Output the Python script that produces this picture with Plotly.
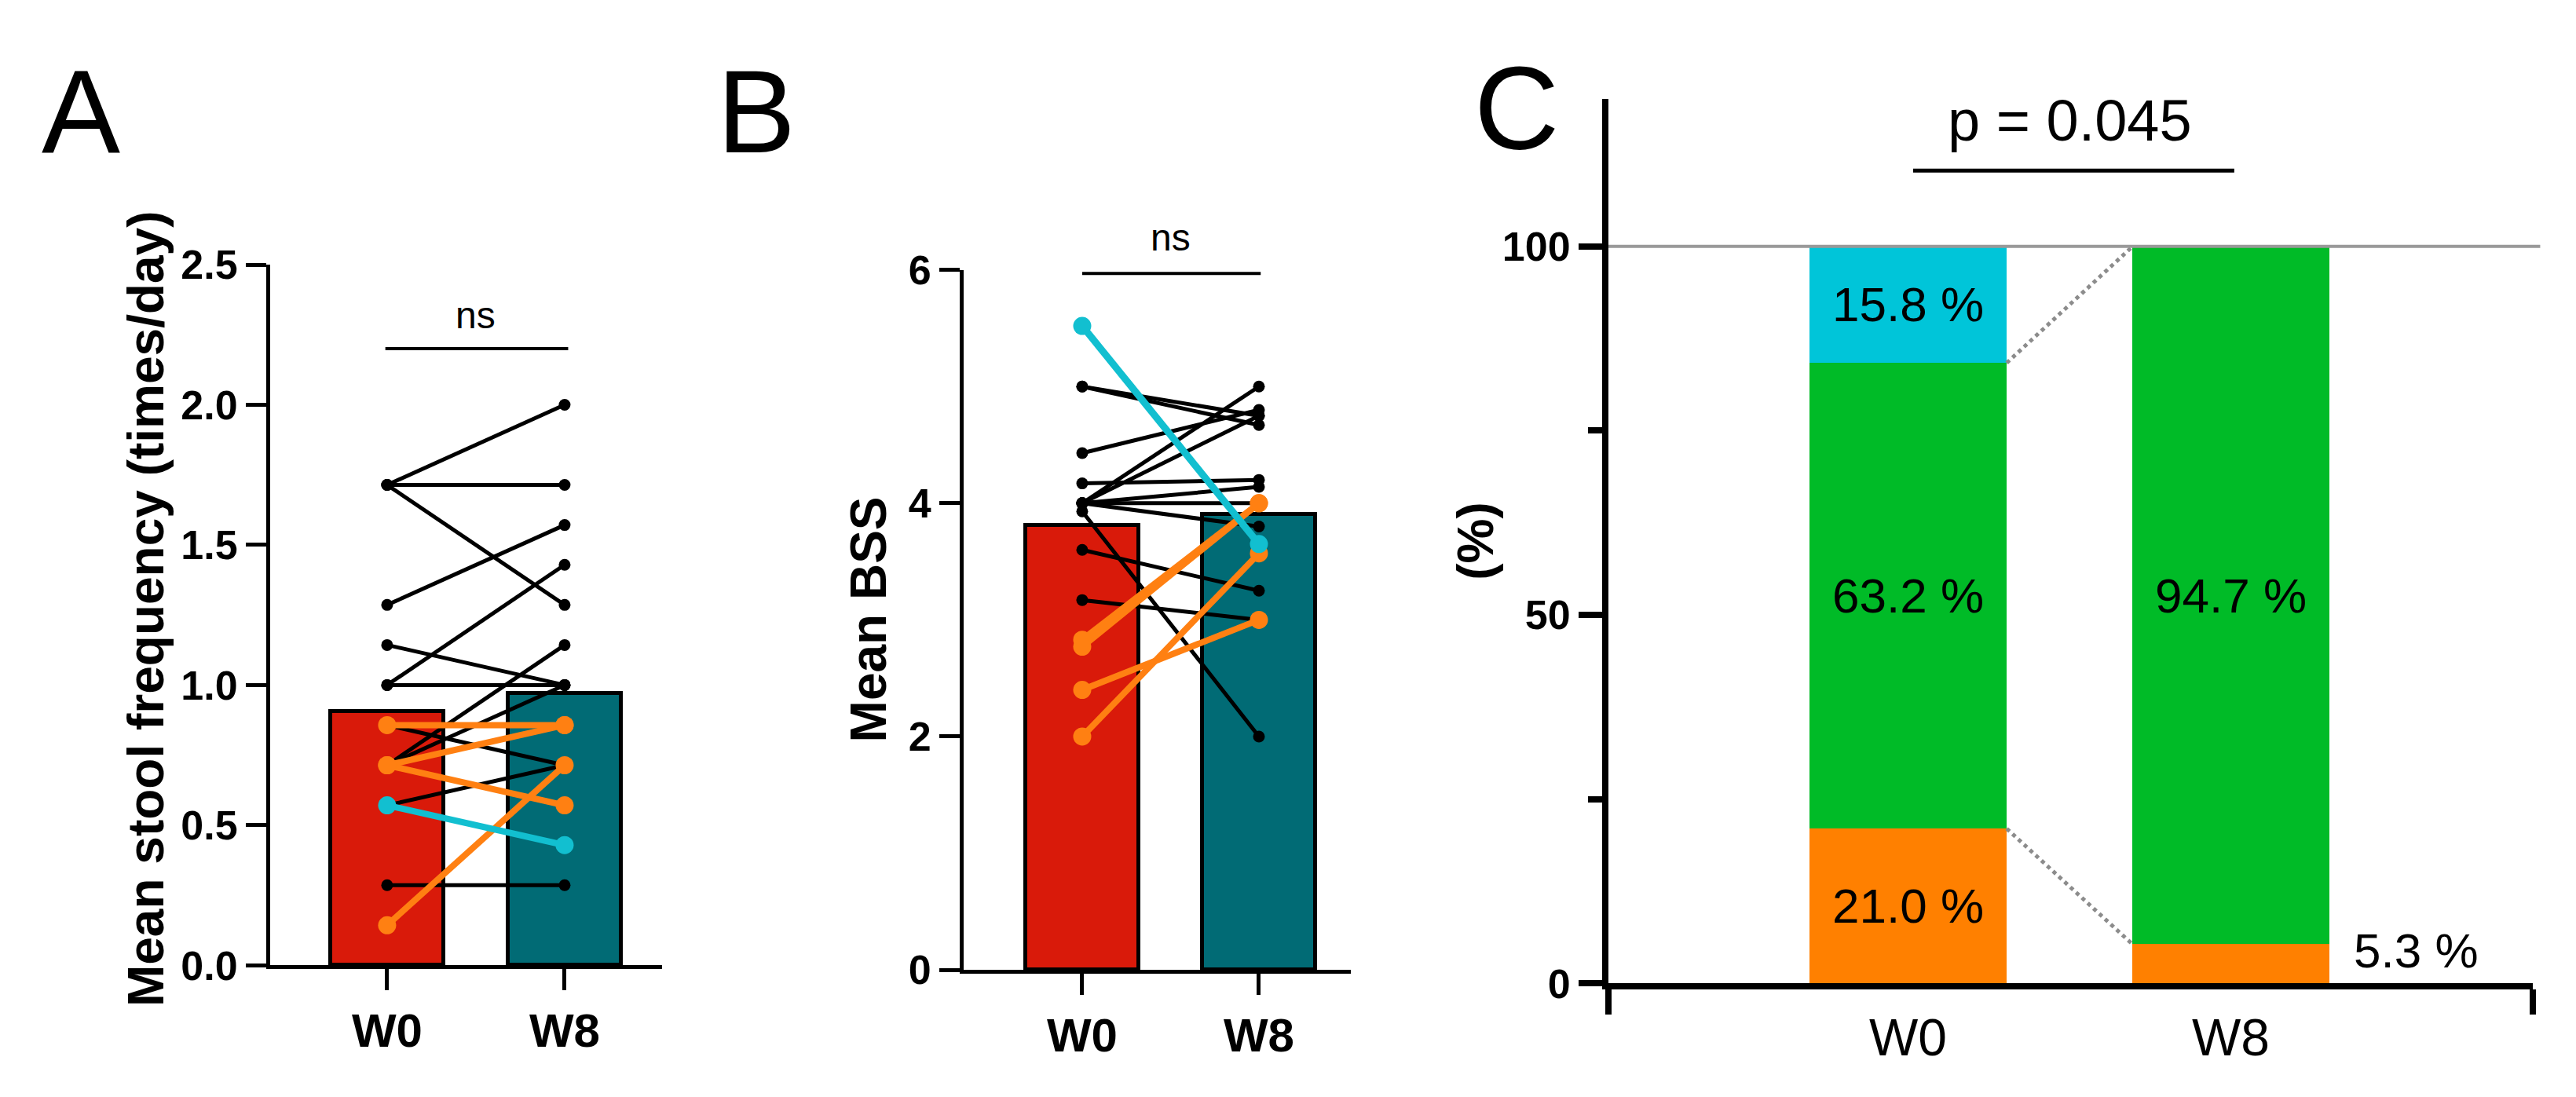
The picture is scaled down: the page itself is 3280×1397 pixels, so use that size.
import plotly.graph_objects as go

W, H = 3280, 1397
FONT = "Liberation Sans"

groups = ["W0", "W8"]

# Panel A - mean stool frequency (times/day), paired subjects W0 -> W8
a_means = [0.905, 0.97]
a_black_w0 = [1.714, 1.714, 1.714, 1.286, 1.143, 1.0, 1.0, 0.714, 0.714, 0.857, 0.571, 0.286]
a_black_w8 = [2.0, 1.714, 1.286, 1.571, 1.0, 1.429, 1.0, 1.143, 1.0, 0.714, 0.714, 0.286]
a_orange_w0 = [0.857, 0.714, 0.714, 0.143]
a_orange_w8 = [0.857, 0.857, 0.571, 0.714]
a_cyan_w0 = [0.571]
a_cyan_w8 = [0.429]
a_ticks = [0.0, 0.5, 1.0, 1.5, 2.0, 2.5]
a_sig_y = 2.2

# Panel B - mean BSS
b_means = [3.81, 3.905]
b_black_w0 = [5.0, 5.0, 4.43, 4.17, 4.0, 4.0, 4.0, 4.0, 4.0, 3.93, 3.6, 3.17]
b_black_w8 = [4.75, 4.67, 4.8, 4.2, 5.0, 4.75, 4.14, 4.0, 3.8, 2.0, 3.25, 3.0]
b_orange_w0 = [2.83, 2.77, 2.4, 2.0]
b_orange_w8 = [4.0, 4.0, 3.0, 3.57]
b_cyan_w0 = [5.52]
b_cyan_w8 = [3.65]
b_ticks = [0, 2, 4, 6]
b_sig_y = 5.97

# Panel C - stacked proportions (%)
c_orange = [21.0, 5.3]
c_green = [63.2, 94.7]
c_cyan = [15.8, 0.0]
c_labels_orange = ["21.0 %", "5.3 %"]
c_labels_green = ["63.2 %", "94.7 %"]
c_labels_cyan = ["15.8 %", ""]
c_ticks = [0, 50, 100]
c_minor = [25, 75]
c_pvalue = "p = 0.045"
c_sig_y = 110.3

RED = "#D91A0A"
TEAL = "#016B75"
ORANGE = "#FF8012"
CYAN = "#12BFD0"
C_ORANGE = "#FF8000"
C_GREEN = "#00BB27"
C_CYAN = "#00C5D9"


def fx(px):
    return px / W


def fy(py):
    return 1 - py / H


def pair_trace(w0, w8, color, lw, ms, xa, ya):
    xs, ys = [], []
    for v0, v8 in zip(w0, w8):
        xs += [0, 1, None]
        ys += [v0, v8, None]
    return go.Scatter(
        x=xs, y=ys, mode="lines+markers",
        line=dict(color=color, width=lw),
        marker=dict(color=color, size=ms),
        xaxis=xa, yaxis=ya, showlegend=False, cliponaxis=False,
        hoverinfo="skip",
    )


fig = go.Figure()

# mean bars A and B
fig.add_trace(go.Bar(x=[0, 1], y=a_means, width=0.64, marker=dict(color=[RED, TEAL], line=dict(color="black", width=5)),
                     xaxis="x", yaxis="y", showlegend=False))
fig.add_trace(go.Bar(x=[0, 1], y=b_means, width=0.64, marker=dict(color=[RED, TEAL], line=dict(color="black", width=5)),
                     xaxis="x2", yaxis="y2", showlegend=False))

# paired lines
fig.add_trace(pair_trace(a_black_w0, a_black_w8, "black", 5, 15, "x", "y"))
fig.add_trace(pair_trace(a_orange_w0, a_orange_w8, ORANGE, 8, 23, "x", "y"))
fig.add_trace(pair_trace(a_cyan_w0, a_cyan_w8, CYAN, 8, 23, "x", "y"))
fig.add_trace(pair_trace(b_black_w0, b_black_w8, "black", 5, 15, "x2", "y2"))
fig.add_trace(pair_trace(b_orange_w0, b_orange_w8, ORANGE, 8, 23, "x2", "y2"))
fig.add_trace(pair_trace(b_cyan_w0, b_cyan_w8, CYAN, 9, 23, "x2", "y2"))

# stacked bars C
cbw = 0.61
for vals, col in [(c_orange, C_ORANGE), (c_green, C_GREEN), (c_cyan, C_CYAN)]:
    fig.add_trace(go.Bar(x=[0, 1], y=vals, width=cbw, marker=dict(color=col, line=dict(width=0)),
                         xaxis="x3", yaxis="y3", showlegend=False))

# dotted connectors between the W0 and W8 boundaries
w0_top_green = c_orange[0] + c_green[0]
w8_top_green = c_orange[1] + c_green[1]
for y0, y1 in [(w0_top_green, w8_top_green), (c_orange[0], c_orange[1])]:
    fig.add_trace(go.Scatter(x=[cbw / 2, 1 - cbw / 2], y=[y0, y1], mode="lines",
                             line=dict(color="#8c8c8c", width=5, dash="dot"),
                             xaxis="x3", yaxis="y3", showlegend=False, hoverinfo="skip"))

tickfont = dict(family=FONT, size=52, color="black", weight="bold")
ax_common = dict(showline=True, linecolor="black", showgrid=False, zeroline=False,
                 ticks="outside", tickcolor="black", fixedrange=True)

fig.update_layout(
    width=W, height=H,
    margin=dict(l=0, r=0, t=0, b=0),
    paper_bgcolor="white", plot_bgcolor="white",
    barmode="stack", bargap=0,
    font=dict(family=FONT, color="black"),
    xaxis=dict(ax_common, domain=[fx(336), fx(835)], range=[-0.659, 1.549], anchor="y",
               linewidth=5, tickwidth=5, ticklen=27, tickvals=[0, 1], ticktext=groups,
               tickfont=dict(family=FONT, size=60, color="black", weight="bold")),
    yaxis=dict(ax_common, domain=[fy(1244), fy(313)], range=[0, 2.5], anchor="x",
               linewidth=5, tickwidth=5, ticklen=26, tickvals=a_ticks,
               ticktext=[f"{v:.1f}" for v in a_ticks], tickfont=tickfont),
    xaxis2=dict(ax_common, domain=[fx(1219), fx(1712)], range=[-0.671, 1.52], anchor="y2",
                linewidth=5, tickwidth=5, ticklen=27, tickvals=[0, 1], ticktext=groups,
                tickfont=dict(family=FONT, size=60, color="black", weight="bold")),
    yaxis2=dict(ax_common, domain=[fy(1250), fy(320)], range=[0, 6], anchor="x2",
                linewidth=5, tickwidth=5, ticklen=26, tickvals=b_ticks,
                ticktext=[str(v) for v in b_ticks], tickfont=tickfont),
    xaxis3=dict(ax_common, domain=[fx(2040), fx(3217)], range=[-0.929, 1.935], anchor="y3",
                linewidth=8, tickwidth=8, ticklen=32, tickvals=[-0.929, 1.935],
                showticklabels=False),
    yaxis3=dict(ax_common, domain=[fy(1268), fy(93)], range=[0, 120], anchor="x3",
                linewidth=8, tickwidth=8, ticklen=30, tickvals=c_ticks,
                ticktext=[str(v) for v in c_ticks], tickfont=tickfont,
                minor=dict(tickvals=c_minor, ticks="outside", ticklen=18, tickwidth=8, tickcolor="black")),
)

# reference line at 100 %
fig.add_shape(type="line", xref="x3 domain", yref="y3", x0=0, x1=1.008, y0=100, y1=100,
              line=dict(color="#999999", width=4))

# significance brackets
fig.add_shape(type="line", xref="x", yref="y", x0=-0.01, x1=1.02, y0=a_sig_y, y1=a_sig_y,
              line=dict(color="black", width=4))
fig.add_shape(type="line", xref="x2", yref="y2", x0=0, x1=1.01, y0=b_sig_y, y1=b_sig_y,
              line=dict(color="black", width=4))
fig.add_shape(type="line", xref="x3", yref="y3", x0=0.015, x1=1.01, y0=c_sig_y, y1=c_sig_y,
              line=dict(color="black", width=5))

ann = []
# panel letters
for txt, x, y in [("A", 95, 110), ("B", 955, 110), ("C", 1923, 105)]:
    ann.append(dict(text=txt, x=fx(x), y=fy(y), xref="paper", yref="paper", showarrow=False,
                    xanchor="center", yanchor="middle", font=dict(size=150, color="black")))
# y titles
for txt, x, y in [("Mean stool frequency (times/day)", 178, 770), ("Mean BSS", 1098, 785), ("(%)", 1871, 680)]:
    ann.append(dict(text=txt, x=fx(x), y=fy(y), xref="paper", yref="paper", showarrow=False,
                    textangle=-90, xanchor="center", yanchor="middle",
                    font=dict(size=64, color="black", weight="bold")))
# ns labels
ann.append(dict(text="ns", x=0.5, y=a_sig_y + 0.12, xref="x", yref="y", showarrow=False,
                yanchor="middle", font=dict(size=48, color="black")))
ann.append(dict(text="ns", x=0.5, y=fy(277), xref="x2", yref="paper", showarrow=False,
                yanchor="middle", font=dict(size=48, color="black")))
# p value
ann.append(dict(text=c_pvalue, x=0.5, y=c_sig_y + 6.8, xref="x3", yref="y3", showarrow=False,
                yanchor="middle", font=dict(size=74, color="black")))
# C categories
for i, g in enumerate(groups):
    ann.append(dict(text=g, x=i, y=fy(1340), xref="x3", yref="paper", showarrow=False,
                    yanchor="middle", font=dict(size=66, color="black")))
# C segment labels
for i in range(2):
    segs = [(c_orange[i], c_labels_orange[i], 0), (c_green[i], c_labels_green[i], c_orange[i]),
            (c_cyan[i], c_labels_cyan[i], c_orange[i] + c_green[i])]
    for val, lab, base in segs:
        if not lab:
            continue
        if val < 10:
            ann.append(dict(text=lab, x=i + cbw / 2 + 0.07, y=base + val * 0.85, xref="x3", yref="y3",
                            showarrow=False, xanchor="left", yanchor="middle",
                            font=dict(size=62, color="black")))
        else:
            ann.append(dict(text=lab, x=i, y=base + val / 2, xref="x3", yref="y3",
                            showarrow=False, xanchor="center", yanchor="middle",
                            font=dict(size=62, color="black")))

fig.update_layout(annotations=ann)

fig.write_html("out.html")
